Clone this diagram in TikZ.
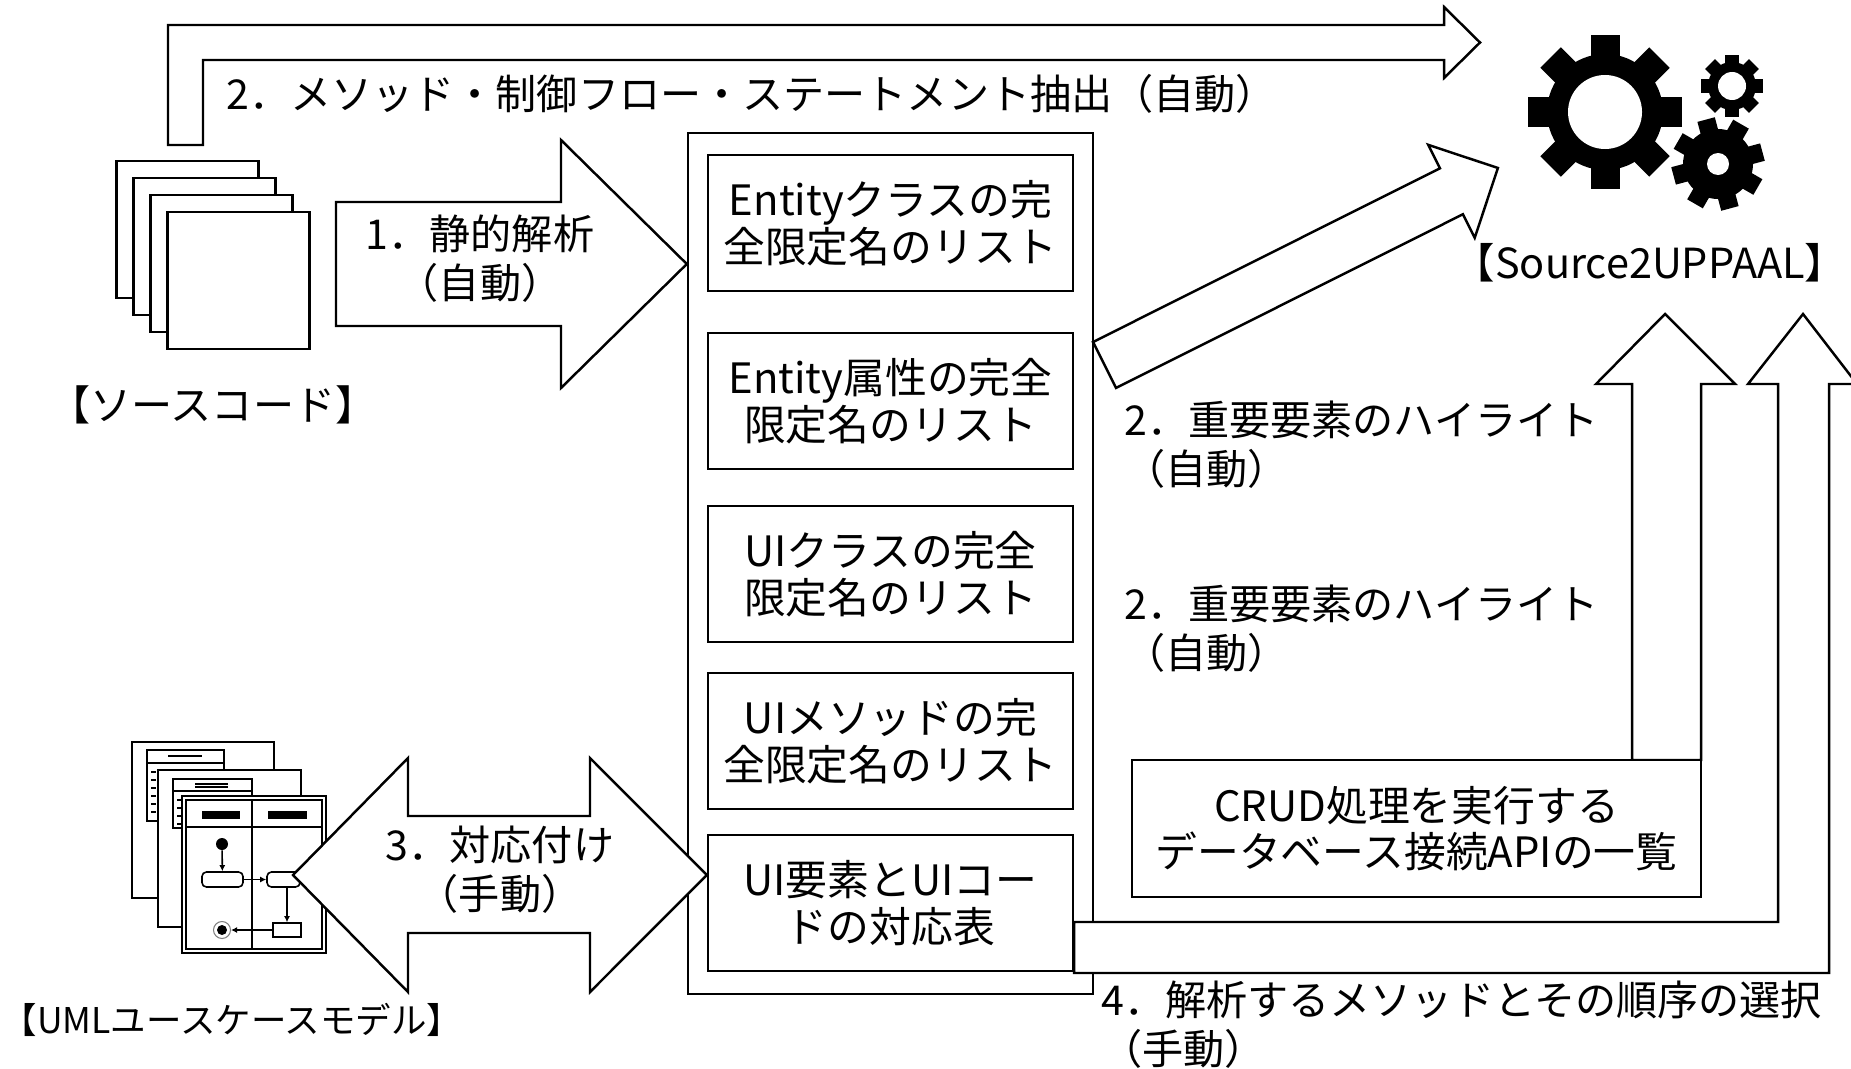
\documentclass[tikz,border=0pt]{standalone}
\usepackage{fontspec}
\setmainfont{Noto Sans CJK JP}
\usetikzlibrary{arrows.meta,positioning,calc}

\newcommand{\stepsize}{\fontsize{23.4}{28}\selectfont}
\newcommand{\entrysize}{\fontsize{23.8}{26.6}\selectfont}
\newcommand{\toolsize}{\fontsize{23.6}{28}\selectfont}

% gear: x, y, body radius, tip radius, hole radius, tooth width, turn
\newcommand{\gearicon}[7]{%
  \begin{scope}[shift={(#1,#2)}]
    \fill (0,0) circle[radius=#3];
    \foreach \a in {0,45,...,315}
      \fill[rotate=\a+#7] (-#6/2,0) rectangle (#6/2,#4);
    \fill[white] (0,0) circle[radius=#5];
  \end{scope}}

\tikzset{
  steplbl/.style={font=\stepsize, align=center, inner sep=0pt},
  listbox/.style={draw, fill=white, line width=1.4pt, minimum width=7.3cm, minimum height=2.72cm,
    align=center, font=\entrysize, inner sep=0pt},
  fatarrow/.style={draw, fill=white, line width=1.4pt, line join=miter},
  page/.style={draw, fill=white, line width=1pt},
  act/.style={draw, line width=0.9pt, inner sep=0pt, rounded corners=2.5pt},
  flow/.style={line width=0.9pt, -{Latex[length=3.5pt,width=3.5pt]}},
}

\begin{document}
\begin{tikzpicture}[x=0.02cm, y=-0.02cm]
  \useasboundingbox (0,0) rectangle (1851,1068);
  \fill[white] (0,0) rectangle (1851,1068);

  % Lists produced by the analysis
  \node[draw, line width=1.4pt, minimum width=8.1cm, minimum height=17.22cm] (lists) at (890.5,563.5) {};
  \node[listbox] (entcls)  at (890.5,223) {Entityクラスの完\\全限定名のリスト};
  \node[listbox] (entattr) at (890.5,401) {Entity属性の完全\\限定名のリスト};
  \node[listbox] (uicls)   at (890.5,574) {UIクラスの完全\\限定名のリスト};
  \node[listbox] (uimeth)  at (890.5,741) {UIメソッドの完\\全限定名のリスト};
  \node[listbox] (uimap)   at (890.5,903) {UI要素とUIコー\\ドの対応表};

  % Step 4: bent arrow into the tool
  \draw[fatarrow] (uimap.east |- 0,922) -- (1778,922) -- (1778,384) -- (1748,384) -- (1803,314)
    -- (1857,384) -- (1829,384) -- (1829,973) -- (uimap.east |- 0,973) -- cycle;

  % Step 2: highlight arrow from the API list
  \draw[fatarrow] (1632,760) -- (1632,384) -- (1596,384) -- (1665,314) -- (1735,384)
    -- (1701,384) -- (1701,760) -- cycle;
  \node[listbox, minimum width=11.38cm, minimum height=2.74cm] (crud) at (1416.5,828.5)
    {CRUD処理を実行する\\データベース接続APIの一覧};

  % Step 2: highlight arrow from the lists
  \begin{scope}[shift={(1104.5,365)}, rotate=26.6]
    \draw[fatarrow] (0,-25.7) -- (388,-25.7) -- (388,-52) -- (440,0) -- (388,52)
      -- (388,25.7) -- (0,25.7) -- cycle;
  \end{scope}

  % Step 1: static analysis
  \draw[fatarrow] (336,202) -- (561,202) -- (561,140) -- (lists.west |- 0,264) -- (561,388)
    -- (561,326) -- (336,326) -- cycle;

  % Step 2: extraction from the source code
  \draw[fatarrow] (168,145) -- (168,25) -- (1444,25) -- (1444,7) -- (1480,42.5) -- (1444,78)
    -- (1444,60) -- (203,60) -- (203,145) -- cycle;

  % Source code stack
  \foreach \i in {0,...,3}
    \draw[page, line width=1.4pt] (116.5+17*\i,161+17*\i) rectangle ++(142,137);
  \node[font=\stepsize, inner sep=0pt] (srclbl) at (213,405) {【ソースコード】};

  % UML use case model
  \draw[page] (132,742) rectangle (274,898);
  \draw[line width=0.8pt] (147,750) rectangle (224,821);
  \draw[line width=0.8pt] (147,763) -- (224,763);
  \draw[line width=1.2pt] (168,756) -- (202,756);
  \foreach \y in {772,780,...,812}
    \draw[line width=1.5pt] (151,\y) -- (156,\y);

  \draw[page] (158,770) rectangle (301,927);
  \draw[line width=0.8pt] (173,779) rectangle (252,828);
  \draw[line width=0.8pt] (173,791) -- (252,791);
  \draw[line width=0.6pt] (195,784) -- (228,784) (195,787) -- (228,787);
  \foreach \y in {800,808,...,824}
    \draw[line width=1.5pt] (177,\y) -- (182,\y);

  \draw[page] (182,796) rectangle (326,953);
  \draw[line width=1pt] (186,800) rectangle (322,949);
  \draw[line width=1pt] (252,800) -- (252,949);
  \draw[line width=1pt] (186,827) -- (322,827);
  \fill (202,811) rectangle (240,819);
  \fill (268,811) rectangle (307,819);

  \node[circle, fill, minimum size=0.24cm, inner sep=0pt] (init) at (222,844) {};
  \node[act, minimum width=0.82cm, minimum height=0.3cm] (act1) at (222.5,879.5) {};
  \node[act, minimum width=0.66cm, minimum height=0.3cm] (act2) at (283.5,879.5) {};
  \node[act, rounded corners=0pt, minimum width=0.56cm, minimum height=0.28cm] (act3) at (287,930) {};
  \node[circle, draw=gray, line width=0.6pt, minimum size=0.34cm, inner sep=0pt] (final) at (222,930) {};
  \fill (final) circle[radius=5];
  \draw[flow] (init) -- (act1);
  \draw[flow] (act1) -- (act2);
  \draw[flow] (act3.north |- act2.south) -- (act3.north);
  \draw[flow] (act3) -- (final);
  \node[font=\fontsize{20.2}{24}\selectfont, inner sep=0pt] (umllbl) at (232,1020) {【UMLユースケースモデル】};

  % Step 3: manual mapping
  \draw[fatarrow] (293,875) -- (408,758) -- (408,816) -- (590,816) -- (590,758) -- (uimap.west |- 0,875)
    -- (590,992) -- (590,933) -- (408,933) -- (408,992) -- cycle;

  % Source2UPPAAL gears
  \gearicon{1605}{112}{58}{77}{37}{29}{0}
  \gearicon{1732}{86}{24}{31}{14}{14}{0}
  \gearicon{1718}{164}{35}{46}{11}{18}{15}
  \node[font=\toolsize, inner sep=0pt] (toollbl) at (1650,263) {【Source2UPPAAL】};

  % Step labels
  \node[steplbl, anchor=west] (extract) at (226,94) {2．メソッド・制御フロー・ステートメント抽出（自動）};
  \node[steplbl] (step1) at (480,259) {1．静的解析\\（自動）};
  \node[steplbl] (step3) at (500,870) {3．対応付け\\（手動）};
  \node[steplbl, anchor=west, align=left] (hilite1) at (1124,445) {2．重要要素のハイライト\\（自動）};
  \node[steplbl, anchor=west, align=left] (hilite2) at (1124,629) {2．重要要素のハイライト\\（自動）};
  \node[steplbl, anchor=west, align=left] (select) at (1101,1025) {4．解析するメソッドとその順序の選択\\（手動）};
\end{tikzpicture}
\end{document}
